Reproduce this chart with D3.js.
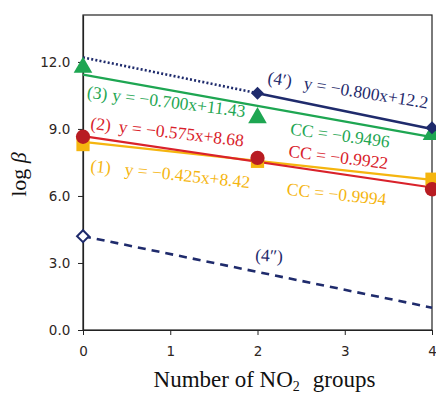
<!DOCTYPE html>
<html>
<head>
<meta charset="utf-8">
<script src="https://cdn.jsdelivr.net/npm/d3@7"></script>
<style>
  body { margin: 0; background: #fff; }
  svg { display: block; }
</style>
</head>
<body>
<div id="chart"></div>
<script>
// measured points, x = number of NO2 groups
const xValues = [0, 2, 4];
const series1 = [8.3, 7.55, 6.75];   // (1) orange squares
const series2 = [8.65, 7.7, 6.3];    // (2) red circles
const series3 = [11.75, 9.5, 8.75];  // (3) green triangles
const series4p = [null, 10.6, 9.05]; // (4') navy diamonds
const series4pp = [4.2, null, null]; // (4'') open diamond

// fitted lines: slope, intercept
const fitSlopes = [-0.425, -0.575, -0.700, -0.800, -0.800];
const fitIntercepts = [8.42, 8.68, 11.43, 12.2, 4.2];

const xTicks = [0, 1, 2, 3, 4];
const yTicks = [0, 3, 6, 9, 12];

const width = 436, height = 394;
const margin = { top: 15, right: 4, bottom: 64, left: 83 };
const w = width - margin.left - margin.right;
const h = height - margin.top - margin.bottom;

const navy = "#1f2b6c", green = "#1ea652", red = "#d9222b", orange = "#f5b50f";

const svg = d3.select("#chart").append("svg")
  .attr("width", width)
  .attr("height", height);

const g = svg.append("g")
  .attr("transform", `translate(${margin.left},${margin.top})`);

const x = d3.scaleLinear().domain([0, 4]).range([0, w]);
const y = d3.scaleLinear().domain([0, 14.1]).range([h, 0]);

// frame
g.append("rect")
  .attr("width", w).attr("height", h)
  .attr("fill", "none").attr("stroke", "#222").attr("stroke-width", 1.2);

// axes
const xAxis = g.append("g")
  .attr("transform", `translate(0,${h})`)
  .call(d3.axisBottom(x).tickValues(xTicks).tickFormat(d3.format("d")).tickSize(5).tickSizeOuter(0));
const yAxis = g.append("g")
  .call(d3.axisLeft(y).tickValues(yTicks).tickFormat(d3.format(".1f")).tickSize(5).tickSizeOuter(0));

[xAxis, yAxis].forEach(a => {
  a.select(".domain").attr("stroke", "#222").attr("stroke-width", 1.2);
  a.selectAll(".tick line").attr("stroke", "#222");
  a.selectAll(".tick text")
    .attr("fill", "#2e261e")
    .style("font-family", "'DejaVu Sans', Verdana, sans-serif")
    .style("font-size", "13.5px");
});
xAxis.selectAll(".tick text").attr("dy", "1.3em");
yAxis.selectAll(".tick text").attr("dx", "-0.35em");

// fit lines
const line = d3.line().x(d => x(d[0])).y(d => y(d[1]));
const fitAt = (i, xv) => [xv, fitSlopes[i] * xv + fitIntercepts[i]];

const fits = [
  { i: 0, from: 0, to: 4, color: orange, width: 2.2, dash: null },
  { i: 1, from: 0, to: 4, color: red, width: 2.2, dash: null },
  { i: 2, from: 0, to: 4, color: green, width: 2.2, dash: null },
  { i: 3, from: 0, to: 2, color: navy, width: 2.6, dash: "2,2.2" },
  { i: 3, from: 2, to: 4, color: navy, width: 2.6, dash: null },
  { i: 4, from: 0, to: 4, color: navy, width: 2.6, dash: "8,6" }
];

g.selectAll(".fit")
  .data(fits)
  .join("path")
  .attr("class", "fit")
  .attr("fill", "none")
  .attr("stroke", d => d.color)
  .attr("stroke-width", d => d.width)
  .attr("stroke-dasharray", d => d.dash)
  .attr("d", d => line([fitAt(d.i, d.from), fitAt(d.i, d.to)]));

// markers
function drawMarkers(values, symbol, size, fill, stroke, rot) {
  const pts = xValues.map((xv, k) => [xv, values[k]]).filter(p => p[1] != null);
  g.append("g").selectAll("path")
    .data(pts)
    .join("path")
    .attr("transform", d => `translate(${x(d[0])},${y(d[1])}) rotate(${rot})`)
    .attr("d", d3.symbol().type(symbol).size(size))
    .attr("fill", fill)
    .attr("stroke", stroke)
    .attr("stroke-width", stroke === "none" ? 0 : 2);
}

drawMarkers(series1, d3.symbolSquare, 175, orange, "none", 0);
drawMarkers(series2, d3.symbolCircle, 160, "#b81c22", "none", 0);
drawMarkers(series3, d3.symbolTriangle, 150, green, "none", 0);
drawMarkers(series4p, d3.symbolSquare, 85, navy, "none", 45);
drawMarkers(series4pp, d3.symbolSquare, 70, "#fff", navy, 45);

// annotations (data coordinates for the baseline start)
const labels = [
  { x: 0.04, y: 10.4, angle: 7, color: green, parts: ["(3)", "y = \u22120.700x+11.43"], gap: 5 },
  { x: 0.08, y: 9.0, angle: 6.5, color: red, parts: ["(2)", "y = \u22120.575x+8.68"], gap: 8 },
  { x: 0.08, y: 7.1, angle: 6, color: orange, parts: ["(1)", "y = \u22120.425x+8.42"], gap: 14 },
  { x: 2.11, y: 11.05, angle: 9, color: navy, parts: ["(4\u2032)", "y = \u22120.800x+12.2"], gap: 12 },
  { x: 2.37, y: 8.75, angle: 7.5, color: green, parts: ["CC = \u22120.9496"], gap: 0 },
  { x: 2.35, y: 7.75, angle: 7, color: red, parts: ["CC = \u22120.9922"], gap: 0 },
  { x: 2.33, y: 6.05, angle: 6, color: orange, parts: ["CC = \u22120.9994"], gap: 0 },
  { x: 1.97, y: 3.1, angle: 3, color: navy, parts: ["(4\u2033)"], gap: 0 }
];

labels.forEach(l => {
  const t = g.append("text")
    .attr("transform", `translate(${x(l.x)},${y(l.y)}) rotate(${l.angle})`)
    .attr("fill", l.color)
    .style("font-family", "'Liberation Serif', 'Times New Roman', serif")
    .style("font-size", "17.5px");
  l.parts.forEach((p, k) => {
    t.append("tspan").attr("dx", k === 0 ? 0 : l.gap).text(p);
  });
});

// axis titles
const xTitle = svg.append("text")
  .attr("x", margin.left + w / 2 + 7)
  .attr("y", 387)
  .attr("text-anchor", "middle")
  .attr("fill", "#111")
  .style("font-family", "'Liberation Serif', 'Times New Roman', serif")
  .style("font-size", "23px");
xTitle.append("tspan").text("Number of NO");
xTitle.append("tspan").attr("dy", 4).style("font-size", "14px").text("2");
xTitle.append("tspan").attr("dy", -4).attr("dx", 13).text("groups");

const yTitle = svg.append("text")
  .attr("transform", `translate(26,${margin.top + h / 2 + 2}) rotate(-90)`)
  .attr("text-anchor", "middle")
  .attr("fill", "#111")
  .style("font-family", "'Liberation Serif', 'Times New Roman', serif")
  .style("font-size", "22px");
yTitle.append("tspan").text("log ");
yTitle.append("tspan").style("font-style", "italic").text("\u03b2");
</script>
</body>
</html>
